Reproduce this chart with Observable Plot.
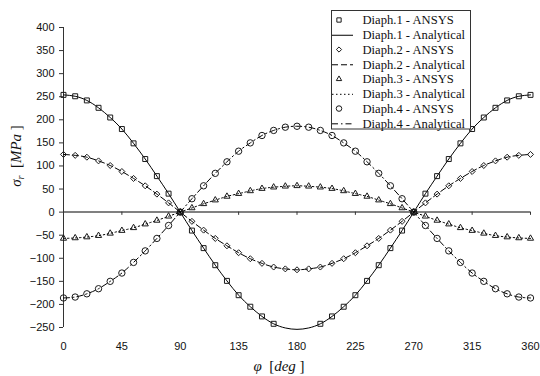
<!DOCTYPE html>
<html>
<head>
<meta charset="utf-8">
<script src="https://cdn.jsdelivr.net/npm/d3@7"></script>
<script src="https://cdn.jsdelivr.net/npm/@observablehq/plot@0.6"></script>
<style>
  body { margin: 0; background: #fff; }
  #chart { position: relative; width: 540px; height: 376px; }
</style>
</head>
<body>
<div id="chart"></div>
<script>
// Angle around the diaphragm, degrees (ANSYS output every 9°)
const phi = [0, 9, 18, 27, 36, 45, 54, 63, 72, 81, 90, 99, 108, 117, 126, 135, 144, 153, 162, 171, 180,
             189, 198, 207, 216, 225, 234, 243, 252, 261, 270, 279, 288, 297, 306, 315, 324, 333, 342, 351, 360];

// Radial stress σr [MPa] – FE results (null = no node output)
const d1Ansys = [254, 251, 242, 226, 205, 180, 149, 115, 78, 40, 0, -40, -78, -115, -149, -180, -205, -226, -242, null, null,
                 null, -242, -226, -205, -180, -149, -115, -78, -40, 0, 40, 78, 115, 149, 180, 205, 226, 242, 251, 254];
const d2Ansys = [125, 123, 119, 111, 101, 88, 73, 57, 39, 20, 0, -20, -39, -57, -73, -88, -101, -111, -119, -123, -125,
                 -123, -119, -111, -101, -88, -73, -57, -39, -20, 0, 20, 39, 57, 73, 88, 101, 111, 119, 123, 125];
const d3Ansys = [-57, -56, -54, -51, -46, -40, -34, -26, -18, -9, 0, 9, 18, 26, 34, 40, 46, 51, 54, 56, 57,
                 56, 54, 51, 46, 40, 34, 26, 18, 9, 0, -9, -18, -26, -34, -40, -46, -51, -54, -56, -57];
const d4Ansys = [-186, -184, -177, -166, -150, -132, -109, -84, -57, -29, 0, 29, 57, 84, 109, 132, 150, 166, 177, 184, 186,
                 184, 177, 166, 150, 132, 109, 84, 57, 29, 0, -29, -57, -84, -109, -132, -150, -166, -177, -184, -186];

// Radial stress σr [MPa] – closed-form solution
const d1Analytical = [254, 251, 242, 226, 205, 180, 149, 115, 78, 40, 0, -40, -78, -115, -149, -180, -205, -226, -242, -251, -254,
                      -251, -242, -226, -205, -180, -149, -115, -78, -40, 0, 40, 78, 115, 149, 180, 205, 226, 242, 251, 254];
const d2Analytical = [125, 123, 119, 111, 101, 88, 73, 57, 39, 20, 0, -20, -39, -57, -73, -88, -101, -111, -119, -123, -125,
                      -123, -119, -111, -101, -88, -73, -57, -39, -20, 0, 20, 39, 57, 73, 88, 101, 111, 119, 123, 125];
const d3Analytical = [-57, -56, -54, -51, -46, -40, -34, -26, -18, -9, 0, 9, 18, 26, 34, 40, 46, 51, 54, 56, 57,
                      56, 54, 51, 46, 40, 34, 26, 18, 9, 0, -9, -18, -26, -34, -40, -46, -51, -54, -56, -57];
const d4Analytical = [-186, -184, -177, -166, -150, -132, -109, -84, -57, -29, 0, 29, 57, 84, 109, 132, 150, 166, 177, 184, 186,
                      184, 177, 166, 150, 132, 109, 84, 57, 29, 0, -29, -57, -84, -109, -132, -150, -166, -177, -184, -186];

const xTicks = [0, 45, 90, 135, 180, 225, 270, 315, 360];
const yTicks = [-250, -200, -150, -100, -50, 0, 50, 100, 150, 200, 250, 300, 350, 400];

const series = [
  {name: "Diaph.1", ansys: d1Ansys, analytical: d1Analytical, symbol: "square",   r: 2.8, dash: null},
  {name: "Diaph.2", ansys: d2Ansys, analytical: d2Analytical, symbol: "diamond2", r: 2.7, dash: "6,3"},
  {name: "Diaph.3", ansys: d3Ansys, analytical: d3Analytical, symbol: "triangle", r: 2.3, dash: "1.5,2.5"},
  {name: "Diaph.4", ansys: d4Ansys, analytical: d4Analytical, symbol: "circle",   r: 3.2, dash: "6,3,1.5,3"}
];

const toRows = (vals) => phi.map((x, i) => ({x, y: vals[i]})).filter(d => d.y != null);

const marks = [
  Plot.ruleY([0], {stroke: "#808080", strokeWidth: 2}),
  Plot.ruleX(xTicks, {x: d => d, y1: 0, y2: -7, stroke: "#333"}),
  Plot.ruleX([0], {stroke: "#333"}),
  Plot.axisY(yTicks, {tickSize: 4, tickPadding: 5, label: null, stroke: "#333", fill: "#111", fontSize: 11}),
  Plot.axisX(xTicks, {tickSize: 0, tickPadding: 15, label: null, fill: "#111", fontSize: 11})
];
for (const s of series) {
  marks.push(Plot.line(toRows(s.analytical), {x: "x", y: "y", stroke: "#000", strokeWidth: 1,
    strokeDasharray: s.dash ?? undefined, curve: "natural"}));
}
for (const s of series) {
  marks.push(Plot.dot(toRows(s.ansys), {x: "x", y: "y", symbol: s.symbol, r: s.r,
    fill: "none", stroke: "#1a1a1a", strokeWidth: 1}));
}

const plot = Plot.plot({
  width: 540,
  height: 376,
  marginLeft: 63,
  marginRight: 10,
  marginTop: 27,
  marginBottom: 49,
  style: {fontFamily: "'Liberation Sans', Arial, sans-serif", fontSize: "11px", color: "#111", background: "#fff"},
  x: {domain: [0, 360]},
  y: {domain: [-250, 400]},
  marks
});
document.getElementById("chart").appendChild(plot);

// Axis titles and legend
const svg = d3.select(plot);
const serif = "'Liberation Serif', 'Times New Roman', serif";

const yTitle = svg.append("text")
  .attr("transform", "translate(21,156) rotate(-90)")
  .attr("text-anchor", "middle")
  .attr("font-family", serif).attr("font-size", 15).attr("fill", "#111")
  .style("white-space", "pre");
yTitle.append("tspan").attr("font-style", "italic").text("σ");
yTitle.append("tspan").attr("font-style", "italic").attr("font-size", 10).attr("dy", 3).text("r");
yTitle.append("tspan").attr("dy", -3).text("  [");
yTitle.append("tspan").attr("font-style", "italic").text("MPa");
yTitle.append("tspan").text(" ]");

const xTitle = svg.append("text")
  .attr("x", 279).attr("y", 371)
  .attr("text-anchor", "middle")
  .attr("font-family", serif).attr("font-size", 15).attr("fill", "#111")
  .style("white-space", "pre");
xTitle.append("tspan").attr("font-style", "italic").text("φ");
xTitle.append("tspan").text("  [");
xTitle.append("tspan").attr("font-style", "italic").text("deg");
xTitle.append("tspan").text(" ]");

const symbolTypes = {square: d3.symbolSquare, diamond2: d3.symbolDiamond2, triangle: d3.symbolTriangle, circle: d3.symbolCircle};
const legend = svg.append("g").attr("text-anchor", "start");
legend.append("rect")
  .attr("x", 331.5).attr("y", 10.5).attr("width", 139).attr("height", 118.5)
  .attr("fill", "#fff").attr("stroke", "#333").attr("stroke-width", 1);
const entries = series.flatMap(s => [
  {label: `${s.name} - ANSYS`, kind: "dot", s},
  {label: `${s.name} - Analytical`, kind: "line", s}
]);
entries.forEach((e, i) => {
  const cy = 20 + i * 14.76;
  if (e.kind === "dot") {
    legend.append("path")
      .attr("transform", `translate(339,${cy})`)
      .attr("d", d3.symbol(symbolTypes[e.s.symbol], Math.PI * e.s.r * e.s.r * 0.75)())
      .attr("fill", "none").attr("stroke", "#1a1a1a");
  } else {
    legend.append("line")
      .attr("x1", 332).attr("x2", 353).attr("y1", cy + 0.5).attr("y2", cy + 0.5)
      .attr("stroke", "#000").attr("stroke-dasharray", e.s.dash);
  }
  legend.append("text")
    .attr("x", 362.5).attr("y", cy).attr("dy", "0.35em")
    .attr("text-anchor", "start")
    .attr("font-family", serif).attr("font-size", 12.6).attr("fill", "#111")
    .text(e.label);
});
</script>
</body>
</html>
